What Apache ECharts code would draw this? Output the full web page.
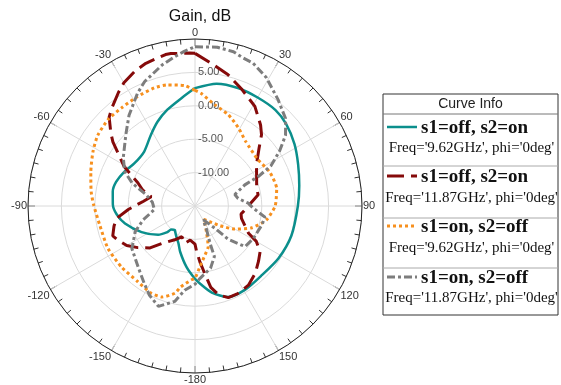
<!DOCTYPE html>
<html>
<head>
<meta charset="utf-8">
<title>Gain, dB</title>
<script src="https://cdn.jsdelivr.net/npm/echarts@6/dist/echarts.min.js"></script>
<style>
  html, body { margin: 0; padding: 0; background: #fff; }
  #chart { width: 561px; height: 385px; }
</style>
</head>
<body>
<div id="chart"></div>
<script>
// angles in degrees (0 = top, clockwise positive), gain in dB
const tealAngle = [-172, -162, -156, -149, -143, -140, -135, -133, -128, -116, -104, -96, -89, -80, -73, -64, -55, -43, -32, -24, -16, -7, 0, 10, 20, 30, 40, 48, 58, 68, 79, 90, 107, 122, 136, 149, 160, 169, 176, 180];
const tealGain = [-5.8, -7.8, -8.9, -9.6, -10.1, -10.3, -10.0, -9.2, -8.0, -6.1, -4.2, -3.2, -2.7, -2.5, -2.65, -3.25, -3.9, -3.85, -2.5, -1.2, 0.0, 1.3, 2.65, 3.6, 3.8, 3.75, 3.75, 3.35, 2.55, 1.65, 0.9, 0.4, 0.1, -0.25, -0.6, -0.4, -0.5, -1.8, -3.3, -4.1];

const redAngle = [-172, -165, -157, -149, -139, -133, -126, -120, -114, -110, -104, -99, -93, -85, -78, -73, -68, -61, -57, -52, -49, -44, -40, -34, -30, -24, -19, -11, -9, -2, 0, 7, 14, 22, 31, 39, 43, 48, 56, 66, 74, 80, 89, 100, 105, 117, 120, 125, 131, 138, 146, 154, 160, 165, 169, 171, 175, 178, 180];
const redGain = [-9.85, -9.2, -10.0, -9.1, -7.6, -5.8, -4.4, -3.2, -2.4, -1.9, -2.5, -3.1, -5.0, -7.2, -8.3, -6.8, -5.8, -2.9, -1.6, 0.6, 1.7, 3.5, 4.3, 5.5, 6.3, 7.1, 7.6, 8.1, 8.1, 7.9, 7.85, 6.4, 5.3, 3.8, 2.4, 0.6, -0.4, -2.1, -3.9, -4.9, -5.4, -5.4, -6.9, -8.0, -7.8, -6.0, -4.4, -3.1, -2.4, -1.5, -0.7, -0.4, -0.4, -1.2, -2.6, -4.2, -6.6, -8.2, -9.3];

const orangeAngle = [-177, -170, -167, -160, -153, -143, -130, -116, -101, -89, -82, -72, -62, -54, -45, -37, -28, -19, -13, -5, 0, 3, 11, 20, 29, 38, 53, 66, 78, 90, 101, 111, 120, 128, 137, 146, 156, 162, 168, 175, 180];
const orangeGain = [-3.9, -2.7, -1.6, -0.5, -0.4, -0.8, -0.7, -0.5, -0.45, 0.2, 0.7, 1.4, 2.3, 3.0, 3.35, 3.35, 3.5, 3.7, 3.6, 3.1, 2.3, 1.9, 0.45, -0.45, -1.6, -2.7, -3.3, -2.7, -2.5, -3.0, -4.1, -5.9, -8.1, -10.2, -11.8, -12.6, -10.8, -8.6, -7.6, -6.0, -4.2];

const grayAngle = [-173, -168, -160, -153, -147, -138, -124, -113, -105, -95, -85, -77, -70, -64, -56, -44, -36, -27, -22, -13, -8, -4, 0, 8, 14, 18, 22, 29, 38, 46, 52, 57, 62, 65, 67, 74, 80, 87, 92, 99, 106, 119, 129, 135, 138, 149, 154, 158, 159, 166, 176, 180];
const grayGain = [-2.3, -0.4, 1.0, 0.0, -1.1, -2.4, -3.6, -5.3, -6.95, -8.9, -8.6, -7.5, -5.0, -3.3, -2.05, -0.1, 1.8, 3.95, 5.1, 6.7, 7.5, 8.2, 8.85, 9.0, 8.8, 8.3, 8.1, 7.0, 5.2, 3.85, 2.2, 0.1, -2.1, -4.5, -6.9, -8.8, -8.45, -7.0, -6.3, -4.4, -4.6, -5.0, -5.35, -7.9, -10.5, -12.6, -11.0, -9.0, -6.9, -5.4, -4.15, -3.3];

const gainTicks = [-10, -5, 0, 5];

const curves = [
  { name: 's1=off, s2=on', sub: "Freq='9.62GHz', phi='0deg'", angle: tealAngle, gain: tealGain,
    color: '#0b8f8c', width: 2.5, dash: 'solid', smooth: 0.25 },
  { name: 's1=off, s2=on', sub: "Freq='11.87GHz', phi='0deg'", angle: redAngle, gain: redGain,
    color: '#850a0a', width: 3, dash: [17, 7], smooth: false },
  { name: 's1=on, s2=off', sub: "Freq='9.62GHz', phi='0deg'", angle: orangeAngle, gain: orangeGain,
    color: '#f7901e', width: 3, dash: [3, 3], smooth: 0.2 },
  { name: 's1=on, s2=off', sub: "Freq='11.87GHz', phi='0deg'", angle: grayAngle, gain: grayGain,
    color: '#7d7d7d', width: 3, dash: [8, 3, 3, 3], smooth: false },
];

// angle axis runs 0..360 so negative angles wrap round
function toPolar(angles, gains) {
  const pts = angles.map((a, i) => [gains[i], a < 0 ? a + 360 : a]);
  pts.sort((p, q) => p[1] - q[1]);
  pts.push([pts[0][0], 360]);
  return pts;
}

const serif = '"Liberation Serif", "Times New Roman", serif';
const sans = '"Liberation Sans", Arial, sans-serif';

// legend table ("Curve Info")
const box = { x: 383, y: 94, w: 175, h: 221 };
const rowLines = [114, 166, 218, 268];
const titleY = [128, 177, 227, 278];
const subY = [148, 198, 248, 298];

const legend = [
  { type: 'rect', shape: { x: box.x, y: box.y, width: box.w, height: box.h },
    style: { fill: '#fff', stroke: '#333', lineWidth: 1 } },
  { type: 'text', style: { x: box.x + box.w / 2, y: 104.5, text: 'Curve Info', align: 'center',
    verticalAlign: 'middle', font: '14px ' + sans, fill: '#222' } },
];
rowLines.forEach((y, i) => {
  legend.push({ type: 'line', shape: { x1: box.x, y1: y, x2: box.x + box.w, y2: y },
    style: { stroke: i === 0 ? '#777' : '#aaa', lineWidth: 1 } });
});
curves.forEach((c, i) => {
  legend.push({ type: 'line', shape: { x1: 387, y1: titleY[i] - 1, x2: 417, y2: titleY[i] - 1 },
    style: { stroke: c.color, lineWidth: c.width, lineDash: c.dash === 'solid' ? null : c.dash } });
  legend.push({ type: 'text', style: { x: 421, y: titleY[i], text: c.name, align: 'left',
    verticalAlign: 'middle', font: 'bold 19px ' + serif, fill: '#111' } });
  legend.push({ type: 'text', style: { x: 471.5, y: subY[i], text: c.sub, align: 'center',
    verticalAlign: 'middle', font: '15px ' + serif, fill: '#111' } });
});

const chart = echarts.init(document.getElementById('chart'));
chart.setOption({
  animation: false,
  polar: { center: [195, 206], radius: 167 },
  angleAxis: {
    type: 'value',
    min: 0,
    max: 360,
    interval: 30,
    startAngle: 90,
    clockwise: true,
    axisLine: { lineStyle: { color: '#222', width: 1 } },
    axisTick: { show: true, inside: true, length: 7, lineStyle: { color: '#333' } },
    minorTick: { show: true, splitNumber: 6, length: 5, lineStyle: { color: '#333' } },
    axisLabel: {
      margin: 1,
      color: '#333',
      fontSize: 11,
      fontFamily: sans,
      formatter: (v) => (v >= 360 ? '' : String(v >= 180 ? v - 360 : v)),
    },
    splitLine: { show: true, lineStyle: { color: '#dadada', width: 1 } },
  },
  radiusAxis: {
    type: 'value',
    min: -15,
    max: 10,
    interval: 5,
    axisLine: { show: false },
    axisTick: { show: false },
    axisLabel: {
      margin: -3,
      align: 'left',
      verticalAlign: 'middle',
      padding: [0, 0, 5, 0],
      color: '#555',
      fontSize: 11,
      fontFamily: sans,
      formatter: (v) => (gainTicks.includes(v) ? v.toFixed(2) : ''),
    },
    splitLine: { show: true, lineStyle: { color: '#dadada', width: 1 } },
  },
  series: curves.map((c) => ({
    type: 'line',
    coordinateSystem: 'polar',
    data: toPolar(c.angle, c.gain),
    symbol: 'none',
    smooth: c.smooth,
    silent: true,
    lineStyle: { color: c.color, width: c.width, type: c.dash },
  })),
  graphic: [
    { type: 'text', style: { x: 200, y: 17, text: 'Gain, dB', align: 'center', verticalAlign: 'middle',
      font: '16px ' + sans, fill: '#111' } },
    ...legend,
  ],
});
</script>
</body>
</html>
